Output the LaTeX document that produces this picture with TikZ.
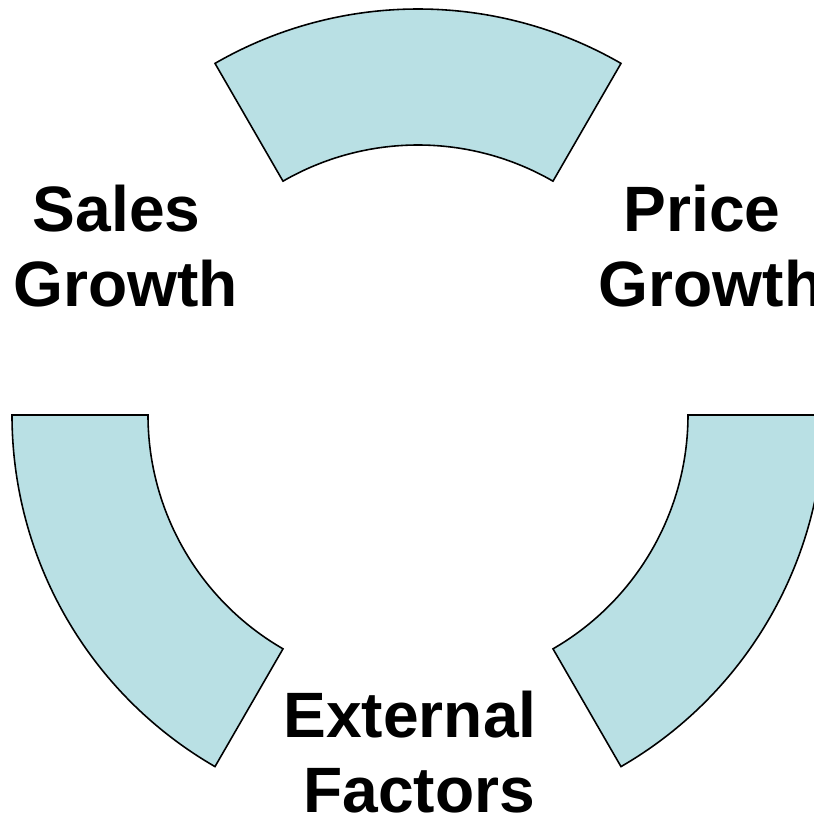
\documentclass[tikz,border=0pt]{standalone}
\usepackage{fontspec}
\setmainfont{Liberation Sans}
\definecolor{ringcyan}{RGB}{185,224,228}
\begin{document}
\begin{tikzpicture}[x=0.02cm,y=0.02cm]
		\tikzstyle{mysector}=[fill=ringcyan,draw=black,line width=0.9pt,line join=miter]
		\tikzstyle{mytext}=[inner sep=0pt,align=center,font=\bfseries\fontsize{36.5}{43}\selectfont]

		\useasboundingbox (-418,-404) rectangle (396,415);

		\foreach \a in {60,180,300} { \draw[mysector] (\a:406) arc (\a:\a+60:406) -- (\a+60:270) arc (\a+60:\a:270) -- cycle;}

		\node[mytext] (sales) at (-292.5,169) {Sales~\mbox{}\\Growth};
		\node[mytext] (price) at (293,169) {Price~\mbox{}\\Growth};
		\node[mytext] (external) at (1,-337) {External~\mbox{}\\Factors};

	\end{tikzpicture}
\end{document}
